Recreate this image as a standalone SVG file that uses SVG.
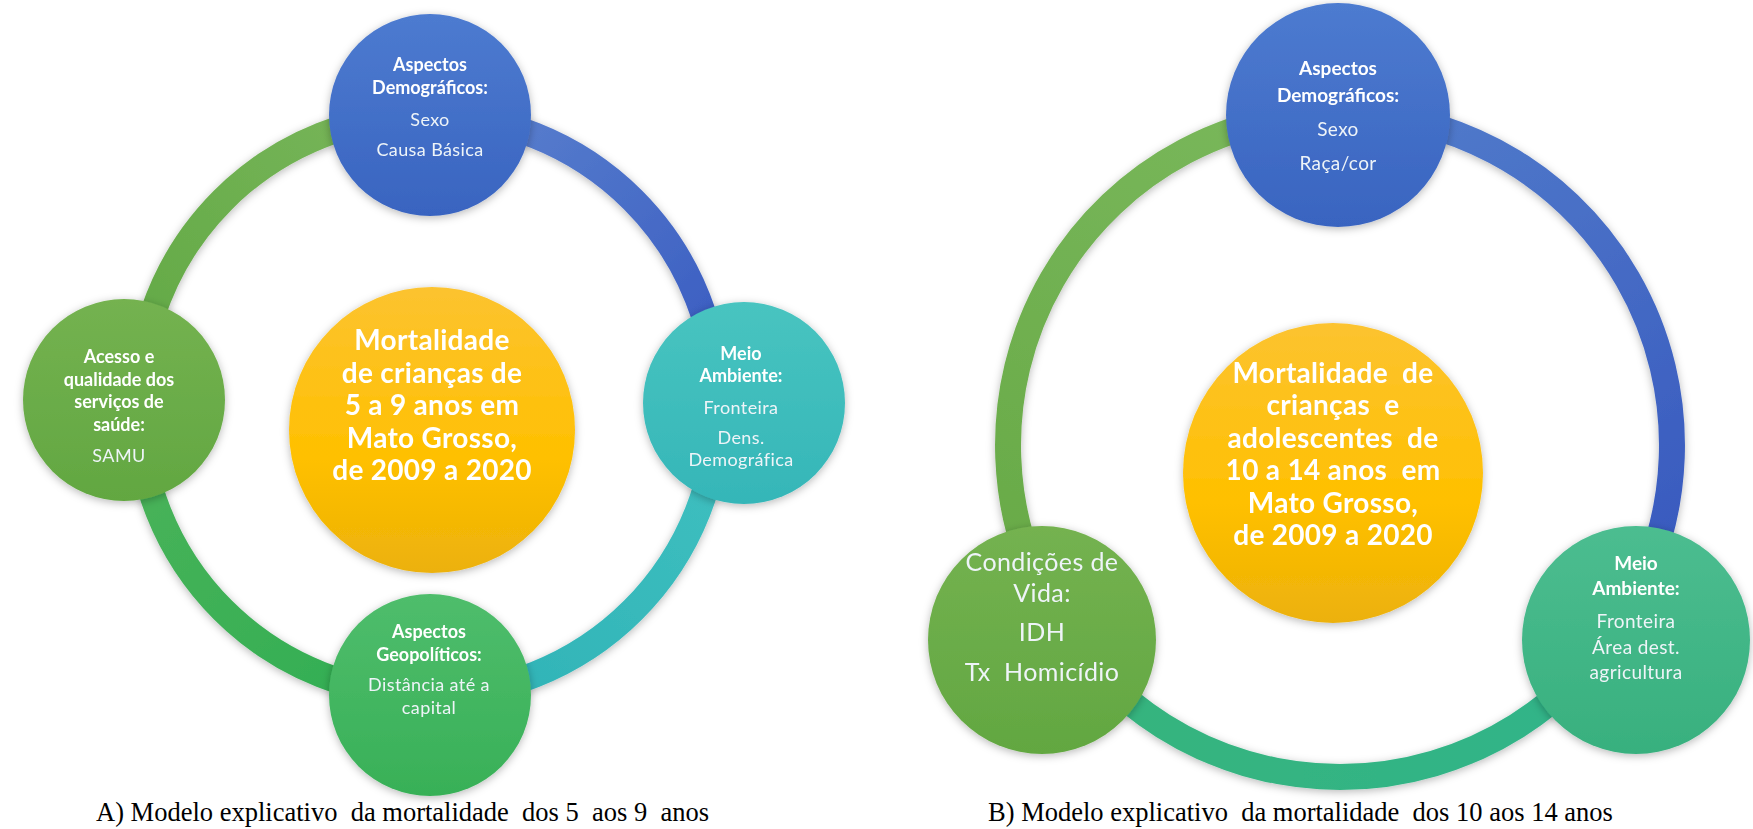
<svg xmlns="http://www.w3.org/2000/svg" width="1753" height="829" viewBox="0 0 1753 829">
  <style>
    .ttl { font-family: Lato, "Open Sans", "DejaVu Sans", sans-serif; font-weight: 700; fill: #ffffff; text-anchor: middle; }
    .itm { font-family: Lato, "Open Sans", "DejaVu Sans", sans-serif; font-weight: 400; fill: #eef4f8; text-anchor: middle; letter-spacing: 0.4px; }
    .ctr { font-family: Lato, "Open Sans", "DejaVu Sans", sans-serif; font-weight: 700; fill: #ffffff; text-anchor: middle; font-size: 28px; letter-spacing: 0.3px; }
    .cap { font-family: "Liberation Serif", "Times New Roman", serif; fill: #000000; font-size: 26.5px; }
    .ring { fill: none; stroke-width: 26; }
  </style>
  <defs>
    <filter id="soft" x="-20%" y="-20%" width="140%" height="140%">
      <feDropShadow dx="0" dy="2" stdDeviation="4" flood-color="#000000" flood-opacity="0.28"/>
    </filter>
    <linearGradient id="gBlue" x1="0" y1="0" x2="0" y2="1">
      <stop offset="0" stop-color="#4d7bd0"/>
      <stop offset="1" stop-color="#3964c0"/>
    </linearGradient>
    <linearGradient id="gYellow" x1="0" y1="0" x2="0" y2="1">
      <stop offset="0" stop-color="#fcc330"/>
      <stop offset="0.6" stop-color="#ffc000"/>
      <stop offset="1" stop-color="#ecb10a"/>
    </linearGradient>
    <linearGradient id="gGreenL" x1="0" y1="0" x2="0" y2="1">
      <stop offset="0" stop-color="#74b250"/>
      <stop offset="1" stop-color="#62a741"/>
    </linearGradient>
    <linearGradient id="gTeal" x1="0" y1="0" x2="0" y2="1">
      <stop offset="0" stop-color="#48c4c0"/>
      <stop offset="1" stop-color="#35b6b8"/>
    </linearGradient>
    <linearGradient id="gGreenM" x1="0" y1="0" x2="0" y2="1">
      <stop offset="0" stop-color="#4fbd6c"/>
      <stop offset="1" stop-color="#38b057"/>
    </linearGradient>
    <linearGradient id="gSea" x1="0" y1="0" x2="0" y2="1">
      <stop offset="0" stop-color="#4cbd90"/>
      <stop offset="1" stop-color="#38b07e"/>
    </linearGradient>
    <!-- ring segment gradients, model A (centre 428,405 r 290) -->
    <linearGradient id="rA1" gradientUnits="userSpaceOnUse" x1="138" y1="405" x2="428" y2="115">
      <stop offset="0" stop-color="#60a844"/>
      <stop offset="1" stop-color="#79b65a"/>
    </linearGradient>
    <linearGradient id="rA2" gradientUnits="userSpaceOnUse" x1="428" y1="115" x2="718" y2="405">
      <stop offset="0" stop-color="#5c83cf"/>
      <stop offset="1" stop-color="#3759c0"/>
    </linearGradient>
    <linearGradient id="rA3" gradientUnits="userSpaceOnUse" x1="718" y1="405" x2="428" y2="695">
      <stop offset="0" stop-color="#3fc0c0"/>
      <stop offset="1" stop-color="#2fb2b6"/>
    </linearGradient>
    <linearGradient id="rA4" gradientUnits="userSpaceOnUse" x1="428" y1="695" x2="138" y2="405">
      <stop offset="0" stop-color="#2fae52"/>
      <stop offset="1" stop-color="#4cb35a"/>
    </linearGradient>
    <!-- ring segment gradients, model B (centre 1340,445 r 332) -->
    <linearGradient id="rB1" gradientUnits="userSpaceOnUse" x1="1052" y1="611" x2="1340" y2="113">
      <stop offset="0" stop-color="#68aa47"/>
      <stop offset="1" stop-color="#7ab85c"/>
    </linearGradient>
    <linearGradient id="rB2" gradientUnits="userSpaceOnUse" x1="1340" y1="113" x2="1628" y2="611">
      <stop offset="0" stop-color="#527ccb"/>
      <stop offset="1" stop-color="#3758be"/>
    </linearGradient>
    <linearGradient id="rB3" gradientUnits="userSpaceOnUse" x1="1628" y1="611" x2="1052" y2="611">
      <stop offset="0" stop-color="#30b48a"/>
      <stop offset="1" stop-color="#37b47c"/>
    </linearGradient>
  </defs>

  <rect x="0" y="0" width="1753" height="829" fill="#ffffff"/>

  <!-- ring connectors -->
  <g id="connectors" filter="url(#soft)">
    <path class="ring" stroke="url(#rA1)" d="M138,405 A290,290 0 0 1 428,115"/>
    <path class="ring" stroke="url(#rA2)" d="M428,115 A290,290 0 0 1 718,405"/>
    <path class="ring" stroke="url(#rA3)" d="M718,405 A290,290 0 0 1 428,695"/>
    <path class="ring" stroke="url(#rA4)" d="M428,695 A290,290 0 0 1 138,405"/>
    <path class="ring" stroke="url(#rB1)" stroke-width="27" d="M1052.5,611 A332,332 0 0 1 1340,113"/>
    <path class="ring" stroke="url(#rB2)" stroke-width="27" d="M1340,113 A332,332 0 0 1 1627.5,611"/>
    <path class="ring" stroke="url(#rB3)" stroke-width="27" d="M1627.5,611 A332,332 0 0 1 1052.5,611"/>
  </g>

  <!-- Model A -->
  <g id="a-centro" filter="url(#soft)">
    <circle cx="432" cy="430" r="143" fill="url(#gYellow)"/>
    <text class="ctr" x="432" y="350">Mortalidade</text>
    <text class="ctr" x="432" y="383">de crianças de</text>
    <text class="ctr" x="432" y="415">5 a 9 anos em</text>
    <text class="ctr" x="432" y="448">Mato Grosso,</text>
    <text class="ctr" x="432" y="480">de 2009 a 2020</text>
  </g>
  <g id="a-demograficos" filter="url(#soft)">
    <circle cx="430" cy="115" r="101" fill="url(#gBlue)"/>
    <text class="ttl" x="430" y="71" font-size="18">Aspectos</text>
    <text class="ttl" x="430" y="94" font-size="18">Demográficos:</text>
    <text class="itm" x="430" y="126" font-size="18">Sexo</text>
    <text class="itm" x="430" y="156" font-size="18">Causa Básica</text>
  </g>
  <g id="a-servicos" filter="url(#soft)">
    <circle cx="124" cy="400" r="101" fill="url(#gGreenL)"/>
    <text class="ttl" x="119" y="363" font-size="18">Acesso e</text>
    <text class="ttl" x="119" y="386" font-size="18">qualidade dos</text>
    <text class="ttl" x="119" y="408" font-size="18">serviços de</text>
    <text class="ttl" x="119" y="431" font-size="18">saúde:</text>
    <text class="itm" x="119" y="462" font-size="18">SAMU</text>
  </g>
  <g id="a-ambiente" filter="url(#soft)">
    <circle cx="744" cy="403" r="101" fill="url(#gTeal)"/>
    <text class="ttl" x="741" y="360" font-size="18">Meio</text>
    <text class="ttl" x="741" y="382" font-size="18">Ambiente:</text>
    <text class="itm" x="741" y="414" font-size="18">Fronteira</text>
    <text class="itm" x="741" y="444" font-size="18">Dens.</text>
    <text class="itm" x="741" y="466" font-size="18">Demográfica</text>
  </g>
  <g id="a-geopoliticos" filter="url(#soft)">
    <circle cx="430" cy="695" r="101" fill="url(#gGreenM)"/>
    <text class="ttl" x="429" y="638" font-size="18">Aspectos</text>
    <text class="ttl" x="429" y="661" font-size="18">Geopolíticos:</text>
    <text class="itm" x="429" y="691" font-size="18">Distância até a</text>
    <text class="itm" x="429" y="714" font-size="18">capital</text>
  </g>

  <!-- Model B -->
  <g id="b-centro" filter="url(#soft)">
    <circle cx="1333" cy="473" r="150" fill="url(#gYellow)"/>
    <text class="ctr" x="1333" y="383" xml:space="preserve">Mortalidade  de</text>
    <text class="ctr" x="1333" y="415" xml:space="preserve">crianças  e</text>
    <text class="ctr" x="1333" y="448" xml:space="preserve">adolescentes  de</text>
    <text class="ctr" x="1333" y="480" xml:space="preserve">10 a 14 anos  em</text>
    <text class="ctr" x="1333" y="513">Mato Grosso,</text>
    <text class="ctr" x="1333" y="545">de 2009 a 2020</text>
  </g>
  <g id="b-demograficos" filter="url(#soft)">
    <circle cx="1338" cy="115" r="112" fill="url(#gBlue)"/>
    <text class="ttl" x="1338" y="75" font-size="19">Aspectos</text>
    <text class="ttl" x="1338" y="102" font-size="19">Demográficos:</text>
    <text class="itm" x="1338" y="136" font-size="19">Sexo</text>
    <text class="itm" x="1338" y="170" font-size="19">Raça/cor</text>
  </g>
  <g id="b-condicoes" filter="url(#soft)">
    <circle cx="1042" cy="640" r="114" fill="url(#gGreenL)"/>
    <text class="itm" x="1042" y="571" font-size="25" fill="#ffffff">Condições de</text>
    <text class="itm" x="1042" y="602" font-size="25" fill="#ffffff">Vida:</text>
    <text class="itm" x="1042" y="641" font-size="25" fill="#ffffff">IDH</text>
    <text class="itm" x="1042" y="681" font-size="25" fill="#ffffff" xml:space="preserve">Tx  Homicídio</text>
  </g>
  <g id="b-ambiente" filter="url(#soft)">
    <circle cx="1636" cy="640" r="114" fill="url(#gSea)"/>
    <text class="ttl" x="1636" y="570" font-size="19">Meio</text>
    <text class="ttl" x="1636" y="595" font-size="19">Ambiente:</text>
    <text class="itm" x="1636" y="628" font-size="19">Fronteira</text>
    <text class="itm" x="1636" y="654" font-size="19">Área dest.</text>
    <text class="itm" x="1636" y="679" font-size="19">agricultura</text>
  </g>

  <!-- captions -->
  <text class="cap" x="96" y="821" xml:space="preserve">A) Modelo explicativo  da mortalidade  dos 5  aos 9  anos</text>
  <text class="cap" x="988" y="821" xml:space="preserve">B) Modelo explicativo  da mortalidade  dos 10 aos 14 anos</text>
</svg>
